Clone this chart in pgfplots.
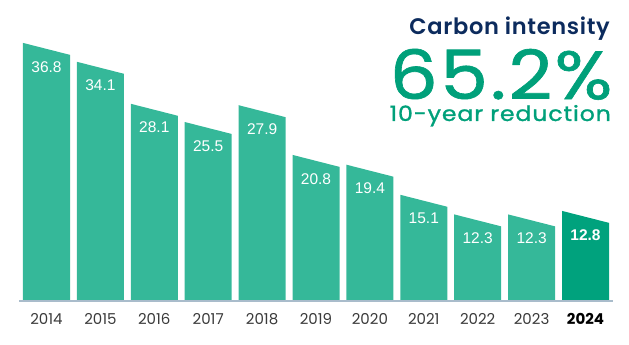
\documentclass[border=0pt]{standalone}
\usepackage{pgfplots}
\pgfplotsset{compat=1.18}
\usepackage{graphicx}
\usepackage{fontspec}
\setmainfont{Poppins}
\newfontfamily\valfont{Liberation Sans}
\newfontfamily\popsub{Poppins}[FakeBold=1.2, LetterSpace=4]
\newfontfamily\popbig{Poppins}[FakeBold=0.9, LetterSpace=3]
\newfontfamily\poptitle{Poppins SemiBold}[LetterSpace=3]
\definecolor{barc}{HTML}{35B899}
\definecolor{lastc}{HTML}{00A27D}
\definecolor{navy}{HTML}{0C2B5D}
\definecolor{bigc}{HTML}{00A07A}
\definecolor{basec}{HTML}{A9BCCB}
\definecolor{yearc}{HTML}{3A3A3A}
\begin{document}
\begin{tikzpicture}
\begin{axis}[
  width=629pt, height=345pt, scale only axis,
  xmin=-0.8627, xmax=10.807, ymin=-6.357, ymax=42.93,
  axis line style={draw=none}, xtick=\empty, ytick=\empty,
  clip=false,
]
\path (rel axis cs:0,0) rectangle (rel axis cs:1,1);
% bars: left top at value, right top lower by slant
\addplot[fill=barc, draw=none] coordinates {(-0.436,0) (-0.436,36.8) (0.436,35.09) (0.436,0)} --cycle;
\addplot[fill=barc, draw=none] coordinates {(0.564,0) (0.564,34.1) (1.436,32.39) (1.436,0)} --cycle;
\addplot[fill=barc, draw=none] coordinates {(1.564,0) (1.564,28.1) (2.436,26.39) (2.436,0)} --cycle;
\addplot[fill=barc, draw=none] coordinates {(2.564,0) (2.564,25.5) (3.436,23.79) (3.436,0)} --cycle;
\addplot[fill=barc, draw=none] coordinates {(3.564,0) (3.564,27.9) (4.436,26.19) (4.436,0)} --cycle;
\addplot[fill=barc, draw=none] coordinates {(4.564,0) (4.564,20.8) (5.436,19.09) (5.436,0)} --cycle;
\addplot[fill=barc, draw=none] coordinates {(5.564,0) (5.564,19.4) (6.436,17.69) (6.436,0)} --cycle;
\addplot[fill=barc, draw=none] coordinates {(6.564,0) (6.564,15.1) (7.436,13.39) (7.436,0)} --cycle;
\addplot[fill=barc, draw=none] coordinates {(7.564,0) (7.564,12.3) (8.436,10.59) (8.436,0)} --cycle;
\addplot[fill=barc, draw=none] coordinates {(8.564,0) (8.564,12.3) (9.436,10.59) (9.436,0)} --cycle;
\addplot[fill=lastc, draw=none] coordinates {(9.564,0) (9.564,12.8) (10.436,11.09) (10.436,0)} --cycle;
% baseline
\draw[basec, line width=1.5pt] (axis cs:-0.505,-0.1) -- (axis cs:10.505,-0.1);
% value labels (3.4 units below left top)
\node[white, font=\valfont\fontsize{15.5}{16}\selectfont] at (axis cs:0,33.4) {36.8};
\node[white, font=\valfont\fontsize{15.5}{16}\selectfont] at (axis cs:1,30.7) {34.1};
\node[white, font=\valfont\fontsize{15.5}{16}\selectfont] at (axis cs:2,24.7) {28.1};
\node[white, font=\valfont\fontsize{15.5}{16}\selectfont] at (axis cs:3,22.1) {25.5};
\node[white, font=\valfont\fontsize{15.5}{16}\selectfont] at (axis cs:4,24.5) {27.9};
\node[white, font=\valfont\fontsize{15.5}{16}\selectfont] at (axis cs:5,17.4) {20.8};
\node[white, font=\valfont\fontsize{15.5}{16}\selectfont] at (axis cs:6,16.0) {19.4};
\node[white, font=\valfont\fontsize{15.5}{16}\selectfont] at (axis cs:7,11.7) {15.1};
\node[white, font=\valfont\fontsize{15.5}{16}\selectfont] at (axis cs:8,8.9) {12.3};
\node[white, font=\valfont\fontsize{15.5}{16}\selectfont] at (axis cs:9,8.9) {12.3};
\node[white, font=\valfont\bfseries\fontsize{15.5}{16}\selectfont] at (axis cs:10,9.4) {12.8};
% year labels
\node[yearc, font=\fontsize{15}{16}\selectfont] at (axis cs:0,-2.64) {2014};
\node[yearc, font=\fontsize{15}{16}\selectfont] at (axis cs:1,-2.64) {2015};
\node[yearc, font=\fontsize{15}{16}\selectfont] at (axis cs:2,-2.64) {2016};
\node[yearc, font=\fontsize{15}{16}\selectfont] at (axis cs:3,-2.64) {2017};
\node[yearc, font=\fontsize{15}{16}\selectfont] at (axis cs:4,-2.64) {2018};
\node[yearc, font=\fontsize{15}{16}\selectfont] at (axis cs:5,-2.64) {2019};
\node[yearc, font=\fontsize{15}{16}\selectfont] at (axis cs:6,-2.64) {2020};
\node[yearc, font=\fontsize{15}{16}\selectfont] at (axis cs:7,-2.64) {2021};
\node[yearc, font=\fontsize{15}{16}\selectfont] at (axis cs:8,-2.64) {2022};
\node[yearc, font=\fontsize{15}{16}\selectfont] at (axis cs:9,-2.64) {2023};
\node[black, font=\bfseries\fontsize{15}{16}\selectfont] at (axis cs:10,-2.64) {2024};
% titles
\node[navy, anchor=base east, inner sep=0pt, font=\poptitle\fontsize{22.5}{23}\selectfont] at (rel axis cs:0.9698,0.9014) {Carbon intensity};
\node[bigc, anchor=base east, inner sep=0pt, text height=48pt, text depth=0pt, font=\popbig\fontsize{68}{70}\selectfont] at (rel axis cs:0.974,0.713) {\scalebox{1.12}[1]{65.2\%}};
\node[bigc, anchor=base east, inner sep=0pt, text height=15pt, text depth=5pt, font=\popsub\fontsize{21}{22}\selectfont] at (rel axis cs:0.9714,0.6493) {\scalebox{1.12}[1]{10-year reduction}};
\end{axis}
\end{tikzpicture}
\end{document}
